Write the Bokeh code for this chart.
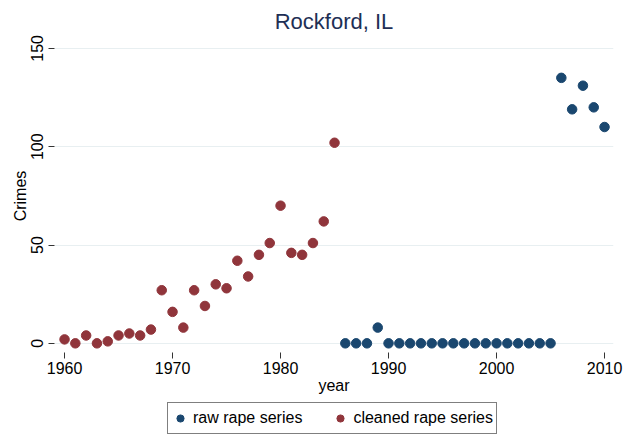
from bokeh.plotting import figure
from bokeh.layouts import column
from bokeh.models import Legend, LegendItem, ColumnDataSource, FixedTicker
from bokeh.embed import file_html
from bokeh.resources import INLINE

# ---- data ----
cleaned_years = [1960, 1961, 1962, 1963, 1964, 1965, 1966, 1967, 1968, 1969,
                 1970, 1971, 1972, 1973, 1974, 1975, 1976, 1977, 1978, 1979,
                 1980, 1981, 1982, 1983, 1984, 1985]
cleaned_values = [2, 0, 4, 0, 1, 4, 5, 4, 7, 27,
                  16, 8, 27, 19, 30, 28, 42, 34, 45, 51,
                  70, 46, 45, 51, 62, 102]
raw_years = [1986, 1987, 1988, 1989, 1990, 1991, 1992, 1993, 1994, 1995,
             1996, 1997, 1998, 1999, 2000, 2001, 2002, 2003, 2004, 2005,
             2006, 2007, 2008, 2009, 2010]
raw_values = [0, 0, 0, 8, 0, 0, 0, 0, 0, 0,
              0, 0, 0, 0, 0, 0, 0, 0, 0, 0,
              135, 119, 131, 120, 110]
x_ticks = [1960, 1970, 1980, 1990, 2000, 2010]
y_ticks = [0, 50, 100, 150]

title_text = "Rockford, IL"
x_label = "year"
y_label = "Crimes"
raw_label = "raw rape series"
clean_label = "cleaned rape series"

BLUE = "#1a476f"
RED = "#90353b"
FONT = "Liberation Sans"

p = figure(width=625, height=400, output_backend="svg", toolbar_location=None,
           x_range=(1959.07, 2010.83), y_range=(-4.66, 154.5),
           min_border_left=54, min_border_right=12, min_border_top=38,
           min_border_bottom=48, background_fill_color="white",
           border_fill_color="white")
p.outline_line_color = None

p.title.text = title_text
p.title.align = "center"
p.title.text_font = FONT
p.title.text_font_size = "22px"
p.title.text_font_style = "normal"
p.title.text_color = "#1e2f55"
p.title.standoff = 12

raw_src = ColumnDataSource(dict(x=raw_years, y=raw_values))
cl_src = ColumnDataSource(dict(x=cleaned_years, y=cleaned_values))
p.scatter("x", "y", source=raw_src, size=9.5, fill_color=BLUE, line_color=BLUE)
p.scatter("x", "y", source=cl_src, size=9.5, fill_color=RED, line_color=RED)

for ax in (p.xaxis[0], p.yaxis[0]):
    ax.axis_line_color = None
    ax.major_tick_line_color = "#333333"
    ax.major_tick_in = 0
    ax.major_tick_out = 6
    ax.minor_tick_line_color = None
    ax.major_label_text_font = FONT
    ax.major_label_text_font_size = "16px"
    ax.major_label_text_color = "black"
    ax.axis_label_text_font = FONT
    ax.axis_label_text_font_size = "16px"
    ax.axis_label_text_font_style = "normal"
    ax.axis_label_text_color = "black"

p.xaxis.ticker = FixedTicker(ticks=x_ticks)
p.yaxis.ticker = FixedTicker(ticks=y_ticks)
p.xaxis.axis_label = x_label
p.yaxis.axis_label = y_label
p.xaxis.major_label_standoff = 3
p.xaxis.axis_label_standoff = 0
p.yaxis.major_label_orientation = "vertical"
p.yaxis.major_label_standoff = 5
p.yaxis.axis_label_standoff = 0

p.xgrid.grid_line_color = None
p.ygrid.ticker = FixedTicker(ticks=y_ticks)
p.ygrid.grid_line_color = "#e8eff1"
p.ygrid.grid_line_width = 1.2

# ---- legend strip below the plot (same series, drawn out of view) ----
leg = figure(width=625, height=36, output_backend="svg", toolbar_location=None,
             x_range=(0, 1), y_range=(0, 1), min_border=0,
             x_axis_location=None, y_axis_location=None,
             background_fill_color="white", border_fill_color="white")
leg.grid.visible = False
leg.outline_line_color = None
lr_raw = leg.scatter("x", "y", source=raw_src, size=9.5, fill_color=BLUE, line_color=BLUE)
lr_cl = leg.scatter("x", "y", source=cl_src, size=9.5, fill_color=RED, line_color=RED)

legend = Legend(items=[LegendItem(label=raw_label, renderers=[lr_raw]),
                       LegendItem(label=clean_label, renderers=[lr_cl])],
                orientation="horizontal", location=(113, 2))
legend.label_text_font = FONT
legend.label_text_font_size = "16px"
legend.label_text_color = "black"
legend.border_line_color = "black"
legend.border_line_width = 1
legend.glyph_width = 18
legend.glyph_height = 18
legend.label_height = 24
legend.label_standoff = 4
legend.spacing = 29
legend.padding = 3
legend.margin = 0
legend.background_fill_color = "white"
leg.add_layout(legend, "center")

layout = column(p, leg, spacing=0)
open("out.html", "w").write(file_html(layout, INLINE))
